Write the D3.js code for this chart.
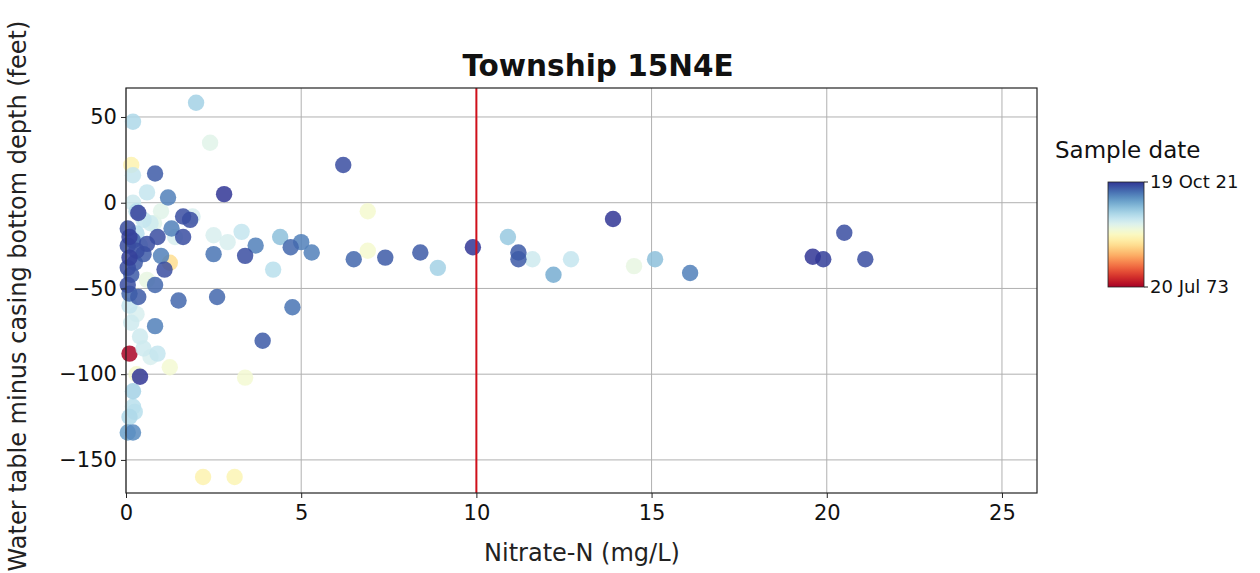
<!DOCTYPE html>
<html><head><meta charset="utf-8">
<script src="https://cdn.jsdelivr.net/npm/d3@7"></script>
<style>body{margin:0;background:#fff;} text{font-family:"DejaVu Sans",sans-serif;}</style>
</head><body><svg id="c" width="1260" height="573"></svg>
<script>
// Nitrate-N (mg/L)
const nitrate = [2.0,0.2,2.4,0.2,0.15,0.83,0.6,1.2,2.8,1.63,1.83,0.35,0.9,1.63,1.3,2.5,3.3,2.9,2.5,3.4,3.7,4.4,4.7,5.0,5.3,4.2,6.2,6.5,6.9,7.4,8.4,8.9,9.9,10.9,11.2,11.2,11.6,12.2,12.7,13.9,14.5,15.1,16.1,19.6,19.9,20.5,21.1,4.75,3.9,6.9,
  0.35,1.5,2.6,0.83,0.1,0.4,2.2,3.1,1.25,3.4,0.2,0.2,0.05,0.9,0.4,1.0,1.25,1.1,0.83,
  0.05,0.1,0.05,0.2,0.3,0.1,0.05,0.15,0.05,0.1,0.3,0.4,0.5,0.6,0.25,0.5,0.7,0.3,0.2,0.1,0.15,0.3,0.5,0.7,0.2,0.1,0.25,0.3,1.0,1.4,0.8,1.9,0.6];
// Water table minus casing bottom depth (feet)
const depth = [58.3,47.2,35,16,22,17,6,3,5,-8,-10,-6,-20,-20,-15,-19,-17,-23,-30,-31,-25,-20,-26,-23,-29,-39,22,-33,-5,-32,-29,-38,-26,-20,-29,-33,-33,-42,-33,-9.5,-37,-33,-41,-31.5,-33,-17.5,-33,-61,-80.5,-28,
  -55,-57,-55,-72,-88,-101.5,-160,-160,-96,-102,-119,-134,-134,-88,-78,-31,-35,-39,-48,
  -15,-20,-25,-22,-28,-32,-38,-42,-48,-53,-18,-25,-30,-24,-35,-10,-12,-5,0,-60,-70,-65,-85,-90,-110,-125,-122,-100,-5,-20,-12,-8,-45];
// Sample date (decimal year)
const sampleYear = [2008,2007,2002,2005,1996,2019,2005,2016,2021.8,2020,2020,2021,2020,2020,2016,2003,2005,2003,2017,2020,2016,2010,2018,2016,2016,2006,2020,2018,1999,2019,2019,2008,2021.8,2009,2019,2019,2004,2012,2005,2021.8,2001,2010,2016,2021.8,2021,2020,2020,2017,2019,1999,
  2019,2018,2018,2016,1974,2021.8,1996,1996.5,1999.3,1999.3,2006,2015,2013,2005,2004,2016,1993,2020,2018,
  2020,2021,2020,2019,2020,2021,2020,2019,2020,2018,2006,2005,2019,2020,2019,2005,2004,2006,2004,2005,2004,2003,2004,2003,2008,2007,2006,1999,2002,2003,2002,2003,2001];
const xTicks = [0,5,10,15,20,25];
const yTicks = [50,0,-50,-100,-150];
const dateLabels = ["19 Oct 21","20 Jul 73"];
const dateDomain = [1973.55, 2021.8];
const limitValue = 10;

const svg = d3.select("#c");
const L=126,R=1037,T=88,B=493;
const x = d3.scaleLinear().domain([0,26]).range([L,R]);
const y = d3.scaleLinear().domain([-169.3,66.9]).range([B,T]);
const col = d3.scaleSequential(d3.interpolateRdYlBu).domain(dateDomain);

// grid
const g = svg.append("g");
g.selectAll(".gx").data(xTicks).join("line").attr("x1",d=>x(d)).attr("x2",d=>x(d)).attr("y1",T).attr("y2",B).attr("stroke","#b0b0b0").attr("stroke-width",1);
g.selectAll(".gy").data(yTicks).join("line").attr("y1",d=>y(d)).attr("y2",d=>y(d)).attr("x1",L).attr("x2",R).attr("stroke","#b0b0b0").attr("stroke-width",1);

// points
const pts = nitrate.map((v,i)=>({x:v,y:depth[i],d:sampleYear[i]}));
pts.sort((a,b)=>a.d-b.d);
svg.append("g").selectAll("circle").data(pts).join("circle")
  .attr("cx",d=>x(d.x)).attr("cy",d=>y(d.y)).attr("r",8.2)
  .attr("fill",d=>col(d.d)).attr("fill-opacity",0.85);

// limit line
svg.append("line").attr("x1",x(limitValue)).attr("x2",x(limitValue)).attr("y1",T).attr("y2",B).attr("stroke","#d0101a").attr("stroke-width",2);

// frame
svg.append("rect").attr("x",L).attr("y",T).attr("width",R-L).attr("height",B-T).attr("fill","none").attr("stroke","#222").attr("stroke-width",1.2);

// axes
const xa = svg.append("g").attr("transform",`translate(0,${B})`).call(d3.axisBottom(x).tickValues(xTicks).tickSize(5).tickFormat(d3.format("d")));
const ya = svg.append("g").attr("transform",`translate(${L},0)`).call(d3.axisLeft(y).tickValues(yTicks).tickSize(5).tickFormat(d=>d<0?"\u2212"+Math.abs(d):d));
[xa,ya].forEach(a=>{a.select(".domain").remove();a.selectAll("text").attr("font-family","DejaVu Sans").attr("font-size",21).attr("fill","#111");a.selectAll("line").attr("stroke","#222");});
xa.selectAll("text").attr("dy","0.9em");
ya.selectAll("text").attr("dx","-0.05em");

// titles
svg.append("text").attr("x",598).attr("y",76).attr("text-anchor","middle").attr("font-size",29.5).attr("font-weight","bold").attr("fill","#111").text("Township 15N4E");
svg.append("text").attr("x",582).attr("y",561).attr("text-anchor","middle").attr("font-size",24).attr("fill","#222").text("Nitrate-N (mg/L)");
svg.append("text").attr("transform","translate(26,296) rotate(-90)").attr("text-anchor","middle").attr("font-size",24).attr("fill","#222").text("Water table minus casing bottom depth (feet)");

// colorbar
const cbX=1108,cbW=36,cbT=182,cbB=287;
const defs=svg.append("defs");
const grad=defs.append("linearGradient").attr("id","cb").attr("x1",0).attr("x2",0).attr("y1",1).attr("y2",0);
d3.range(0,1.0001,0.05).forEach(t=>grad.append("stop").attr("offset",t).attr("stop-color",d3.interpolateRdYlBu(t)));
svg.append("rect").attr("x",cbX).attr("y",cbT).attr("width",cbW).attr("height",cbB-cbT).attr("fill","url(#cb)").attr("stroke","#222").attr("stroke-width",0.8);
const cy = d3.scaleLinear().domain(dateDomain).range([cbB,cbT]);
const cbTicks=[dateDomain[1],dateDomain[0]];
svg.selectAll(".cbt").data(cbTicks).join("line").attr("x1",cbX+cbW).attr("x2",cbX+cbW+4).attr("y1",d=>cy(d)).attr("y2",d=>cy(d)).attr("stroke","#222");
svg.selectAll(".cbl").data(cbTicks).join("text").attr("x",cbX+cbW+6).attr("y",d=>cy(d)).attr("dy","0.35em").attr("font-size",18).attr("fill","#111").text((d,i)=>dateLabels[i]);
svg.append("text").attr("x",1055).attr("y",158).attr("font-size",23).attr("fill","#111").text("Sample date");
</script></body></html>
